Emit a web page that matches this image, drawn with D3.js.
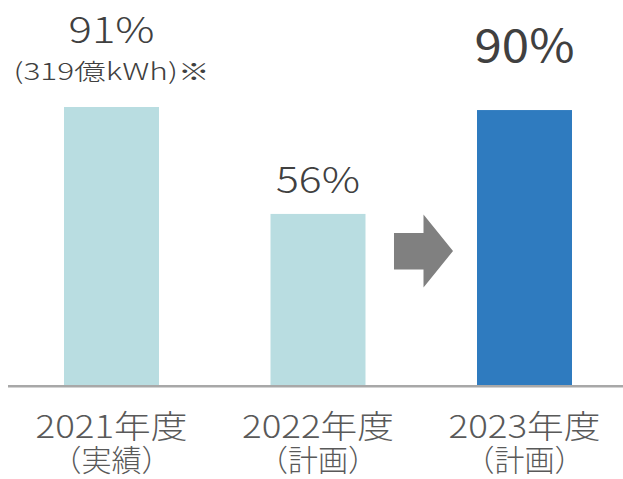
<!DOCTYPE html>
<html><head><meta charset="utf-8">
<script src="https://cdn.jsdelivr.net/npm/d3@7"></script>
<style>
html,body{margin:0;padding:0;background:#fff;}
svg{display:block;}
text{font-family:"Noto Sans CJK JP","Noto Sans",sans-serif;}
</style></head>
<body>
<svg id="c" width="623" height="479"></svg>
<script>
const categories = ["2021年度", "2022年度", "2023年度"];
const subLabels = ["（実績）", "（計画）", "（計画）"];
const values = [91, 56, 90];
const valueLabels = ["91%", "56%", "90%"];
const noteLabel = "(319億kWh)※";
const barColors = ["#b9dde1", "#b9dde1", "#2f7bbf"];

const svg = d3.select("#c");
const x = d3.scaleBand().domain(categories).range([8.25, 627.75]).paddingInner(0.54).paddingOuter(0.27);
const y = d3.scaleLinear().domain([0, 100]).range([385, 79.5]);

// bars
svg.selectAll("rect.bar").data(values).join("rect")
  .attr("class", "bar")
  .attr("x", (d, i) => x(categories[i]))
  .attr("width", x.bandwidth())
  .attr("y", d => y(d))
  .attr("height", d => y(0) - y(d))
  .attr("fill", (d, i) => barColors[i]);

// baseline
svg.append("line").attr("x1", 8).attr("x2", 623).attr("y1", y(0) + 1.3).attr("y2", y(0) + 1.3)
  .attr("stroke", "#a8a8a8").attr("stroke-width", 2.6);

// value labels
const cx = i => x(categories[i]) + x.bandwidth() / 2;
const vStyle = [
  {size: 36, len: 86, dy: -64, weight: 300},
  {size: 36, len: 84, dy: -21, weight: 300},
  {size: 45, len: 100, dy: -48, weight: 400}
];
svg.selectAll("text.val").data(values).join("text")
  .attr("class", "val")
  .attr("x", (d, i) => cx(i) - vStyle[i].len / 2)
  .attr("y", (d, i) => y(d) + vStyle[i].dy)
  .attr("font-size", (d, i) => vStyle[i].size)
  .attr("font-weight", (d, i) => vStyle[i].weight)
  .attr("textLength", (d, i) => vStyle[i].len)
  .attr("lengthAdjust", "spacingAndGlyphs")
  .attr("fill", "#404040")
  .text((d, i) => valueLabels[i]);

svg.append("text")
  .attr("x", cx(0) - 98).attr("y", y(values[0]) - 27)
  .attr("font-size", 23)
  .attr("font-weight", 300)
  .attr("textLength", 196).attr("lengthAdjust", "spacingAndGlyphs")
  .attr("fill", "#404040")
  .text(noteLabel);

// category labels
svg.selectAll("text.cat").data(categories).join("text")
  .attr("class", "cat")
  .attr("x", (d, i) => cx(i) - 76)
  .attr("y", 438)
  .attr("font-size", 32)
  .attr("font-weight", 300)
  .attr("textLength", 152).attr("lengthAdjust", "spacingAndGlyphs")
  .attr("fill", "#595959")
  .text(d => d);
svg.selectAll("text.sub").data(subLabels).join("text")
  .attr("class", "sub")
  .attr("x", (d, i) => cx(i))
  .attr("y", 471)
  .attr("text-anchor", "middle")
  .attr("font-size", 30)
  .attr("font-weight", 300)
  .attr("fill", "#595959")
  .text(d => d);

// arrow between 2022 and 2023
const ax0 = x(categories[1]) + x.bandwidth() + 28.5;
const ax1 = x(categories[2]) - 24;
const amid = (ax0 + ax1) / 2;
const ay = 251;
const arrow = [[ax0, ay - 18], [amid, ay - 18], [amid, ay - 36.5], [ax1, ay], [amid, ay + 36.5], [amid, ay + 18.5], [ax0, ay + 18.5]];
svg.append("path").attr("d", d3.line()(arrow) + "Z").attr("fill", "#808080");
</script>
</body></html>
